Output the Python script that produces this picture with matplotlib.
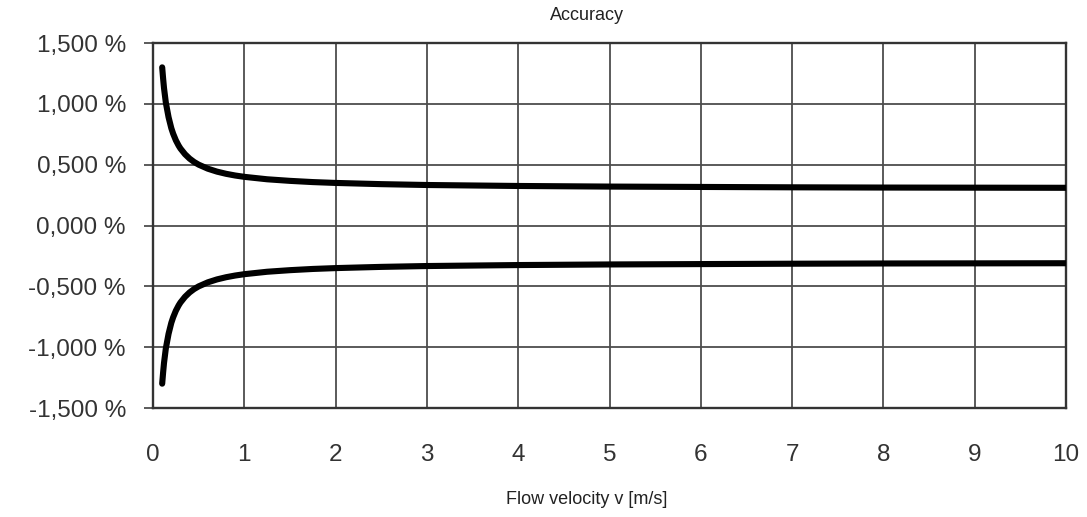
import matplotlib
matplotlib.use("Agg")
import matplotlib.pyplot as plt
from matplotlib.ticker import FuncFormatter

# Data
velocity = [0.1, 0.11, 0.12, 0.13, 0.14, 0.15, 0.17, 0.2, 0.22, 0.25, 0.28, 0.3, 0.35, 0.4, 0.45, 0.5,
            0.6, 0.7, 0.8, 0.9, 1.0, 1.25, 1.5, 1.75, 2.0, 2.5, 3.0, 4.0, 5.0, 6.0, 7.0, 8.0, 9.0, 10.0]
upper_limit = [1.30, 1.21, 1.13, 1.07, 1.01, 0.97, 0.89, 0.80, 0.755, 0.70, 0.657, 0.633, 0.586, 0.55,
               0.522, 0.50, 0.467, 0.443, 0.425, 0.411, 0.40, 0.38, 0.367, 0.357, 0.35, 0.34, 0.333,
               0.325, 0.32, 0.317, 0.314, 0.312, 0.311, 0.31]
lower_limit = [-1.30, -1.21, -1.13, -1.07, -1.01, -0.97, -0.89, -0.80, -0.755, -0.70, -0.657, -0.633,
               -0.586, -0.55, -0.522, -0.50, -0.467, -0.443, -0.425, -0.411, -0.40, -0.38, -0.367,
               -0.357, -0.35, -0.34, -0.333, -0.325, -0.32, -0.317, -0.314, -0.312, -0.311, -0.31]
x_ticks = [0, 1, 2, 3, 4, 5, 6, 7, 8, 9, 10]
y_ticks = [-1.5, -1.0, -0.5, 0.0, 0.5, 1.0, 1.5]
title_text = "Accuracy"
xlabel_text = "Flow velocity v [m/s]"

plt.rcParams['font.family'] = ['Liberation Sans', 'DejaVu Sans']

fig = plt.figure(figsize=(10.87, 5.17), dpi=100)
ax = fig.add_axes([0.1408, 0.2108, 0.8399, 0.7060])

ax.plot(velocity, upper_limit, color='black', lw=4.4, solid_capstyle='round',
        solid_joinstyle='round', zorder=3)
ax.plot(velocity, lower_limit, color='black', lw=4.4, solid_capstyle='round',
        solid_joinstyle='round', zorder=3)

ax.set_xlim(0, 10)
ax.set_ylim(-1.5, 1.5)
ax.set_xticks(x_ticks)
ax.set_yticks(y_ticks)

def pct(v, pos):
    s = f"{v:.3f}".replace('.', ',')
    if s.startswith('-0,000'):
        s = '0,000'
    return s + " %"

ax.yaxis.set_major_formatter(FuncFormatter(pct))
ax.grid(True, color='#4d4d4d', lw=1.3, zorder=1)
for sp in ax.spines.values():
    sp.set_color('#333333')
    sp.set_linewidth(1.7)

ax.tick_params(axis='y', direction='out', length=6.5, width=1.3, color='#4d4d4d',
               labelsize=17.5, labelcolor='#333333', pad=13)
ax.tick_params(axis='x', length=0, labelsize=17.5, labelcolor='#333333', pad=26)

fig.text(587 / 1087, 1 - 15 / 517, title_text, ha='center', va='center', fontsize=13, color='#222222')
fig.text(587 / 1087, 1 - 500 / 517, xlabel_text, ha='center', va='center', fontsize=13, color='#222222')

fig.savefig("out.png", dpi=100, facecolor='white')
